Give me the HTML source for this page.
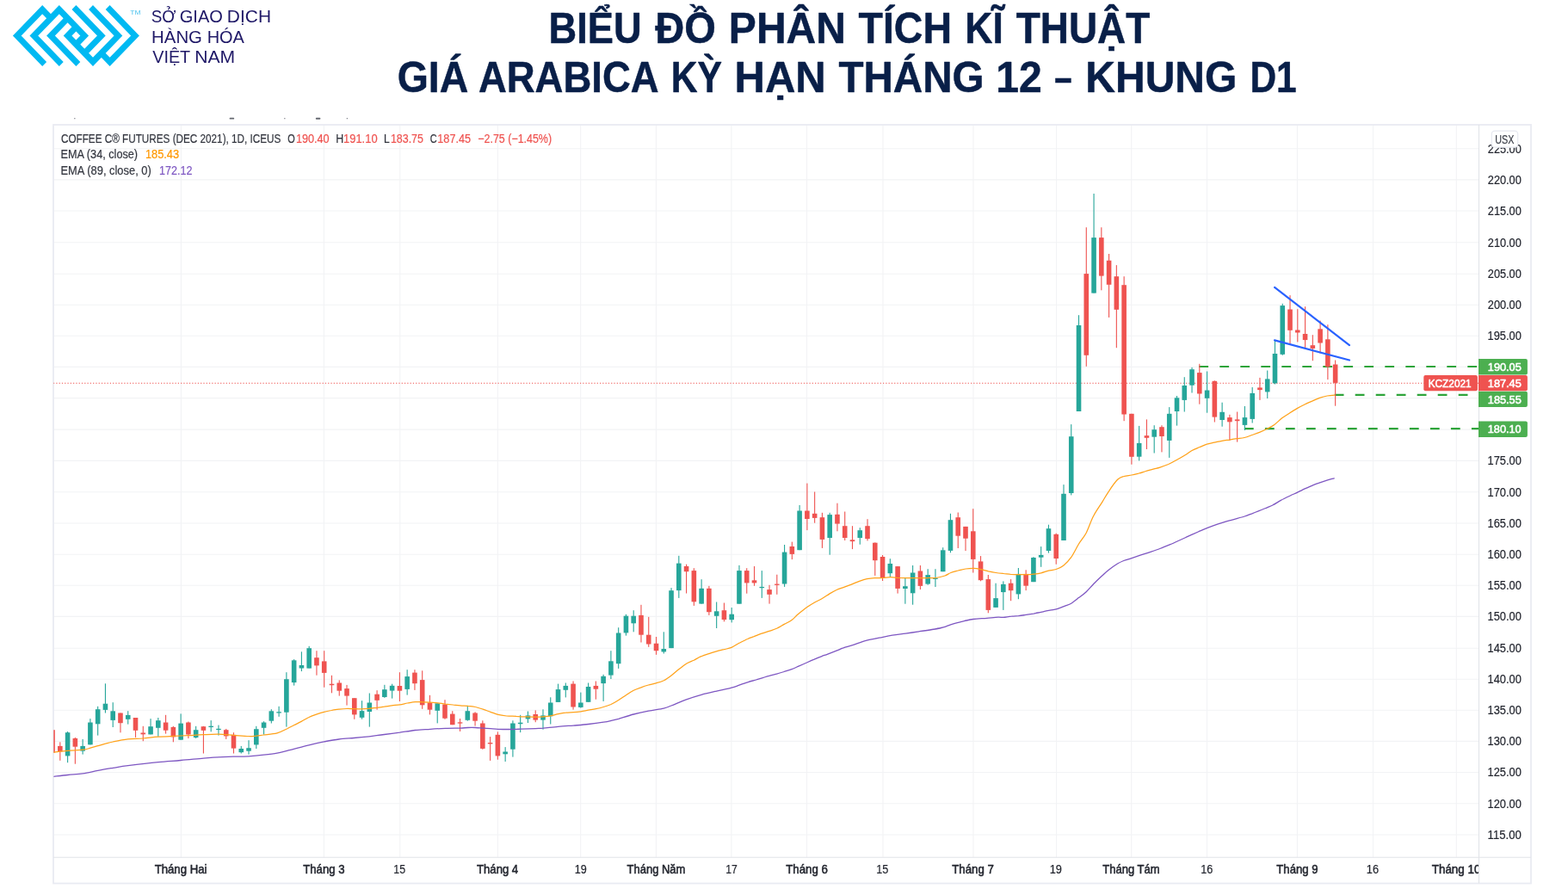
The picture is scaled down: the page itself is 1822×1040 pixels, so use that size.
<!DOCTYPE html>
<html lang="vi"><head><meta charset="utf-8"><title>Biểu đồ phân tích kĩ thuật</title>
<style>
html,body{margin:0;padding:0;background:#fff;}
body{width:1822px;height:1040px;overflow:hidden;position:relative;font-family:"Liberation Sans","DejaVu Sans",sans-serif;}
#logo{position:absolute;left:0;top:0;}
svg{position:absolute;left:0;top:0;}
svg text{font-family:"Liberation Sans","DejaVu Sans",sans-serif;white-space:pre;}
</style></head><body>

<svg id="logo" width="340" height="90" viewBox="0 0 340 90">
<g transform="translate(14.9,6.05) scale(4.9000,5.0643)" fill="none" stroke="#00b9f2" stroke-width="1.4142" stroke-linejoin="miter" stroke-linecap="butt" stroke-miterlimit="10">
<polyline points="7.5,13.5 1,7 7,1 9,3"/>
<polyline points="11.5,13.5 5,7 11,1 17,7 15,9"/>
<polyline points="15.5,13.5 9,7 13,3"/>
<polyline points="15,5 13,7 19,13 25,7 18.5,0.5"/>
<polyline points="14.5,0.5 21,7 17,11"/>
<polyline points="22.5,0.5 29,7 23,13 21,11"/>
</g>
<text transform="translate(151.27,17.00) scale(1.0655,1)" font-size="8.0" font-weight="normal" fill="#4fc4ef" font-family="Liberation Sans, sans-serif">TM</text>
</svg>
<svg id="hdr" width="1822" height="130" viewBox="0 0 1822 130" style="position:absolute;left:0;top:0">
<g id="brand">
<text transform="translate(175.71,25.60) scale(0.8980,1)" font-size="21.0" font-weight="normal" fill="#1f1867">SỞ</text>
<text transform="translate(208.76,25.60) scale(0.9563,1)" font-size="21.0" font-weight="normal" fill="#1f1867">GIAO</text>
<text transform="translate(263.87,25.60) scale(0.9963,1)" font-size="21.0" font-weight="normal" fill="#1f1867">DỊCH</text>
<text transform="translate(176.11,49.50) scale(0.9693,1)" font-size="21.0" font-weight="normal" fill="#1f1867">HÀNG</text>
<text transform="translate(240.64,49.50) scale(0.9507,1)" font-size="21.0" font-weight="normal" fill="#1f1867">HÓA</text>
<text transform="translate(177.20,72.80) scale(0.9435,1)" font-size="21.0" font-weight="normal" fill="#1f1867">VIỆT</text>
<text transform="translate(226.25,72.80) scale(1.0067,1)" font-size="21.0" font-weight="normal" fill="#1f1867">NAM</text>
</g>
<g id="title">
<text transform="translate(637.57,49.65) scale(0.9192,1)" font-size="49.2" font-weight="bold" fill="#091f48" stroke="#091f48" stroke-width="0.5" stroke-linejoin="round">BIỂU</text>
<text transform="translate(761.25,49.65) scale(0.9568,1)" font-size="49.2" font-weight="bold" fill="#091f48" stroke="#091f48" stroke-width="0.5" stroke-linejoin="round">ĐỒ</text>
<text transform="translate(846.85,49.65) scale(0.9760,1)" font-size="49.2" font-weight="bold" fill="#091f48" stroke="#091f48" stroke-width="0.5" stroke-linejoin="round">PHÂN</text>
<text transform="translate(997.55,49.65) scale(0.9449,1)" font-size="49.2" font-weight="bold" fill="#091f48" stroke="#091f48" stroke-width="0.5" stroke-linejoin="round">TÍCH</text>
<text transform="translate(1121.37,49.65) scale(0.9034,1)" font-size="49.2" font-weight="bold" fill="#091f48" stroke="#091f48" stroke-width="0.5" stroke-linejoin="round">KĨ</text>
<text transform="translate(1180.75,49.65) scale(0.9332,1)" font-size="49.2" font-weight="bold" fill="#091f48" stroke="#091f48" stroke-width="0.5" stroke-linejoin="round">THUẬT</text>
<text transform="translate(461.70,106.50) scale(0.9448,1)" font-size="49.2" font-weight="bold" fill="#091f48" stroke="#091f48" stroke-width="0.5" stroke-linejoin="round">GIÁ</text>
<text transform="translate(555.94,106.50) scale(0.9243,1)" font-size="49.2" font-weight="bold" fill="#091f48" stroke="#091f48" stroke-width="0.5" stroke-linejoin="round">ARABICA</text>
<text transform="translate(779.69,106.50) scale(0.8665,1)" font-size="49.2" font-weight="bold" fill="#091f48" stroke="#091f48" stroke-width="0.5" stroke-linejoin="round">KỲ</text>
<text transform="translate(853.49,106.50) scale(0.9963,1)" font-size="49.2" font-weight="bold" fill="#091f48" stroke="#091f48" stroke-width="0.5" stroke-linejoin="round">HẠN</text>
<text transform="translate(974.45,106.50) scale(0.9668,1)" font-size="49.2" font-weight="bold" fill="#091f48" stroke="#091f48" stroke-width="0.5" stroke-linejoin="round">THÁNG</text>
<text transform="translate(1157.24,106.50) scale(0.9777,1)" font-size="49.2" font-weight="bold" fill="#091f48" stroke="#091f48" stroke-width="0.5" stroke-linejoin="round">12</text>
<text transform="translate(1225.18,106.50) scale(0.7450,1)" font-size="49.2" font-weight="bold" fill="#091f48" stroke="#091f48" stroke-width="0.5" stroke-linejoin="round">–</text>
<text transform="translate(1261.35,106.50) scale(0.9759,1)" font-size="49.2" font-weight="bold" fill="#091f48" stroke="#091f48" stroke-width="0.5" stroke-linejoin="round">KHUNG</text>
<text transform="translate(1452.39,106.50) scale(0.8636,1)" font-size="49.2" font-weight="bold" fill="#091f48" stroke="#091f48" stroke-width="0.5" stroke-linejoin="round">D1</text>
</g>
</svg>
<svg id="chart" width="1822" height="1040" viewBox="0 0 1822 1040">
<rect x="86.2" y="137.05" width="1.3" height="1.3" rx="0.65" fill="#4a4d57" opacity="0.85"/>
<rect x="266.6" y="136.80" width="5.6" height="1.8" rx="0.90" fill="#4a4d57" opacity="0.85"/>
<rect x="330.2" y="137.05" width="1.3" height="1.3" rx="0.65" fill="#4a4d57" opacity="0.85"/>
<rect x="366.8" y="136.75" width="5.6" height="1.9" rx="0.95" fill="#4a4d57" opacity="0.85"/>
<rect x="402.7" y="137.05" width="1.3" height="1.3" rx="0.65" fill="#4a4d57" opacity="0.85"/>
<line x1="210.4" y1="145" x2="210.4" y2="996.3" stroke="#f2f3f5" stroke-width="1.1"/>
<line x1="376.4" y1="145" x2="376.4" y2="996.3" stroke="#f2f3f5" stroke-width="1.1"/>
<line x1="464.8" y1="145" x2="464.8" y2="996.3" stroke="#f2f3f5" stroke-width="1.1"/>
<line x1="578.3" y1="145" x2="578.3" y2="996.3" stroke="#f2f3f5" stroke-width="1.1"/>
<line x1="674.7" y1="145" x2="674.7" y2="996.3" stroke="#f2f3f5" stroke-width="1.1"/>
<line x1="762.4" y1="145" x2="762.4" y2="996.3" stroke="#f2f3f5" stroke-width="1.1"/>
<line x1="849.9" y1="145" x2="849.9" y2="996.3" stroke="#f2f3f5" stroke-width="1.1"/>
<line x1="937.5" y1="145" x2="937.5" y2="996.3" stroke="#f2f3f5" stroke-width="1.1"/>
<line x1="1026.0" y1="145" x2="1026.0" y2="996.3" stroke="#f2f3f5" stroke-width="1.1"/>
<line x1="1131.0" y1="145" x2="1131.0" y2="996.3" stroke="#f2f3f5" stroke-width="1.1"/>
<line x1="1227.5" y1="145" x2="1227.5" y2="996.3" stroke="#f2f3f5" stroke-width="1.1"/>
<line x1="1314.7" y1="145" x2="1314.7" y2="996.3" stroke="#f2f3f5" stroke-width="1.1"/>
<line x1="1402.5" y1="145" x2="1402.5" y2="996.3" stroke="#f2f3f5" stroke-width="1.1"/>
<line x1="1507.4" y1="145" x2="1507.4" y2="996.3" stroke="#f2f3f5" stroke-width="1.1"/>
<line x1="1595.5" y1="145" x2="1595.5" y2="996.3" stroke="#f2f3f5" stroke-width="1.1"/>
<line x1="1692.3" y1="145" x2="1692.3" y2="996.3" stroke="#f2f3f5" stroke-width="1.1"/>
<line x1="62" y1="970.00" x2="1718.5" y2="970.00" stroke="#f2f3f5" stroke-width="1.1"/>
<line x1="62" y1="933.80" x2="1718.5" y2="933.80" stroke="#f2f3f5" stroke-width="1.1"/>
<line x1="62" y1="897.50" x2="1718.5" y2="897.50" stroke="#f2f3f5" stroke-width="1.1"/>
<line x1="62" y1="861.40" x2="1718.5" y2="861.40" stroke="#f2f3f5" stroke-width="1.1"/>
<line x1="62" y1="825.30" x2="1718.5" y2="825.30" stroke="#f2f3f5" stroke-width="1.1"/>
<line x1="62" y1="789.30" x2="1718.5" y2="789.30" stroke="#f2f3f5" stroke-width="1.1"/>
<line x1="62" y1="753.20" x2="1718.5" y2="753.20" stroke="#f2f3f5" stroke-width="1.1"/>
<line x1="62" y1="716.40" x2="1718.5" y2="716.40" stroke="#f2f3f5" stroke-width="1.1"/>
<line x1="62" y1="680.30" x2="1718.5" y2="680.30" stroke="#f2f3f5" stroke-width="1.1"/>
<line x1="62" y1="644.20" x2="1718.5" y2="644.20" stroke="#f2f3f5" stroke-width="1.1"/>
<line x1="62" y1="608.00" x2="1718.5" y2="608.00" stroke="#f2f3f5" stroke-width="1.1"/>
<line x1="62" y1="571.70" x2="1718.5" y2="571.70" stroke="#f2f3f5" stroke-width="1.1"/>
<line x1="62" y1="535.40" x2="1718.5" y2="535.40" stroke="#f2f3f5" stroke-width="1.1"/>
<line x1="62" y1="499.10" x2="1718.5" y2="499.10" stroke="#f2f3f5" stroke-width="1.1"/>
<line x1="62" y1="462.60" x2="1718.5" y2="462.60" stroke="#f2f3f5" stroke-width="1.1"/>
<line x1="62" y1="426.40" x2="1718.5" y2="426.40" stroke="#f2f3f5" stroke-width="1.1"/>
<line x1="62" y1="390.30" x2="1718.5" y2="390.30" stroke="#f2f3f5" stroke-width="1.1"/>
<line x1="62" y1="354.30" x2="1718.5" y2="354.30" stroke="#f2f3f5" stroke-width="1.1"/>
<line x1="62" y1="318.20" x2="1718.5" y2="318.20" stroke="#f2f3f5" stroke-width="1.1"/>
<line x1="62" y1="281.80" x2="1718.5" y2="281.80" stroke="#f2f3f5" stroke-width="1.1"/>
<line x1="62" y1="245.00" x2="1718.5" y2="245.00" stroke="#f2f3f5" stroke-width="1.1"/>
<line x1="62" y1="208.90" x2="1718.5" y2="208.90" stroke="#f2f3f5" stroke-width="1.1"/>
<line x1="62" y1="172.70" x2="1718.5" y2="172.70" stroke="#f2f3f5" stroke-width="1.1"/>
<rect x="62" y="145" width="1717" height="881.5" fill="none" stroke="#e9ebf2" stroke-width="1.8"/>
<line x1="1718.5" y1="145" x2="1718.5" y2="1026.5" stroke="#e1e3e8" stroke-width="1.1"/>
<line x1="62" y1="996.3" x2="1779" y2="996.3" stroke="#e1e3e8" stroke-width="1.1"/>
<clipPath id="pc"><rect x="62.3" y="145" width="1656.5" height="851.3"/></clipPath>
<g clip-path="url(#pc)">
<line x1="62" y1="445.25" x2="1718.5" y2="445.25" stroke="#ef5350" stroke-width="1.1" stroke-dasharray="1.25 2.04"/>
<line x1="1393.3" y1="426.00" x2="1718.5" y2="426.00" stroke="#2ea43a" stroke-width="2.1" stroke-dasharray="10.8 13.2"/>
<line x1="1550.7" y1="458.85" x2="1718.5" y2="458.85" stroke="#2ea43a" stroke-width="2.1" stroke-dasharray="10.8 13.2"/>
<line x1="1445.9" y1="498.15" x2="1718.5" y2="498.15" stroke="#2ea43a" stroke-width="2.1" stroke-dasharray="10.8 13.2"/>
<rect x="60.51" y="848.2" width="1.1" height="27.2" fill="#ef5350"/><rect x="58.26" y="848.2" width="5.6" height="26.5" fill="#ef5350"/>
<rect x="69.28" y="862.3" width="1.1" height="21.5" fill="#ef5350"/><rect x="67.03" y="866.9" width="5.6" height="6.5" fill="#ef5350"/>
<rect x="78.05" y="850.0" width="1.1" height="36.2" fill="#26a69a"/><rect x="75.80" y="851.2" width="5.6" height="27.2" fill="#26a69a"/>
<rect x="86.81" y="856.9" width="1.1" height="30.8" fill="#ef5350"/><rect x="84.56" y="858.0" width="5.6" height="9.7" fill="#ef5350"/>
<rect x="95.58" y="858.9" width="1.1" height="17.7" fill="#26a69a"/><rect x="93.33" y="866.9" width="5.6" height="5.8" fill="#26a69a"/>
<rect x="104.35" y="835.1" width="1.1" height="30.3" fill="#26a69a"/><rect x="102.10" y="839.5" width="5.6" height="25.8" fill="#26a69a"/>
<rect x="113.12" y="820.8" width="1.1" height="33.8" fill="#26a69a"/><rect x="110.87" y="824.2" width="5.6" height="17.1" fill="#26a69a"/>
<rect x="121.89" y="794.3" width="1.1" height="34.2" fill="#26a69a"/><rect x="119.64" y="817.7" width="5.6" height="7.2" fill="#26a69a"/>
<rect x="130.65" y="816.2" width="1.1" height="28.8" fill="#26a69a"/><rect x="128.40" y="826.3" width="5.6" height="10.6" fill="#26a69a"/>
<rect x="139.42" y="828.5" width="1.1" height="22.8" fill="#ef5350"/><rect x="137.17" y="828.5" width="5.6" height="11.7" fill="#ef5350"/>
<rect x="148.19" y="826.2" width="1.1" height="15.4" fill="#26a69a"/><rect x="145.94" y="830.9" width="5.6" height="4.9" fill="#26a69a"/>
<rect x="156.96" y="834.0" width="1.1" height="22.9" fill="#ef5350"/><rect x="154.71" y="834.0" width="5.6" height="14.8" fill="#ef5350"/>
<rect x="165.73" y="843.8" width="1.1" height="17.4" fill="#ef5350"/><rect x="163.48" y="851.5" width="5.6" height="1.8" fill="#ef5350"/>
<rect x="174.50" y="835.1" width="1.1" height="18.3" fill="#26a69a"/><rect x="172.25" y="844.2" width="5.6" height="9.2" fill="#26a69a"/>
<rect x="183.26" y="834.0" width="1.1" height="21.8" fill="#26a69a"/><rect x="181.01" y="837.2" width="5.6" height="8.6" fill="#26a69a"/>
<rect x="192.03" y="830.8" width="1.1" height="21.8" fill="#ef5350"/><rect x="189.78" y="839.5" width="5.6" height="9.2" fill="#ef5350"/>
<rect x="200.80" y="843.8" width="1.1" height="18.5" fill="#ef5350"/><rect x="198.55" y="844.9" width="5.6" height="11.5" fill="#ef5350"/>
<rect x="209.57" y="829.4" width="1.1" height="30.3" fill="#26a69a"/><rect x="207.32" y="840.6" width="5.6" height="19.1" fill="#26a69a"/>
<rect x="218.34" y="838.5" width="1.1" height="19.5" fill="#ef5350"/><rect x="216.09" y="839.5" width="5.6" height="14.0" fill="#ef5350"/>
<rect x="227.10" y="843.8" width="1.1" height="14.2" fill="#26a69a"/><rect x="224.85" y="848.2" width="5.6" height="8.8" fill="#26a69a"/>
<rect x="235.87" y="843.8" width="1.1" height="31.7" fill="#ef5350"/><rect x="233.62" y="844.2" width="5.6" height="4.6" fill="#ef5350"/>
<rect x="244.64" y="837.1" width="1.1" height="13.2" fill="#26a69a"/><rect x="242.39" y="843.7" width="5.6" height="1.3" fill="#26a69a"/>
<rect x="253.41" y="842.6" width="1.1" height="12.0" fill="#26a69a"/><rect x="251.16" y="846.8" width="5.6" height="1.3" fill="#26a69a"/>
<rect x="262.18" y="846.9" width="1.1" height="12.0" fill="#ef5350"/><rect x="259.93" y="848.2" width="5.6" height="7.2" fill="#ef5350"/>
<rect x="270.94" y="851.2" width="1.1" height="24.3" fill="#ef5350"/><rect x="268.69" y="853.8" width="5.6" height="15.8" fill="#ef5350"/>
<rect x="279.71" y="866.9" width="1.1" height="8.6" fill="#26a69a"/><rect x="277.46" y="870.0" width="5.6" height="4.2" fill="#26a69a"/>
<rect x="288.48" y="860.2" width="1.1" height="16.5" fill="#26a69a"/><rect x="286.23" y="869.2" width="5.6" height="3.5" fill="#26a69a"/>
<rect x="297.25" y="843.8" width="1.1" height="26.2" fill="#26a69a"/><rect x="295.00" y="847.2" width="5.6" height="18.2" fill="#26a69a"/>
<rect x="306.02" y="838.2" width="1.1" height="15.4" fill="#26a69a"/><rect x="303.77" y="839.5" width="5.6" height="6.3" fill="#26a69a"/>
<rect x="314.78" y="824.2" width="1.1" height="16.3" fill="#26a69a"/><rect x="312.53" y="826.3" width="5.6" height="11.4" fill="#26a69a"/>
<rect x="323.55" y="820.8" width="1.1" height="12.0" fill="#26a69a"/><rect x="321.30" y="827.2" width="5.6" height="1.3" fill="#26a69a"/>
<rect x="332.32" y="781.2" width="1.1" height="63.4" fill="#26a69a"/><rect x="330.07" y="789.2" width="5.6" height="38.5" fill="#26a69a"/>
<rect x="341.09" y="766.1" width="1.1" height="30.5" fill="#26a69a"/><rect x="338.84" y="767.3" width="5.6" height="25.8" fill="#26a69a"/>
<rect x="349.86" y="757.3" width="1.1" height="22.8" fill="#26a69a"/><rect x="347.61" y="773.0" width="5.6" height="3.5" fill="#26a69a"/>
<rect x="358.63" y="750.8" width="1.1" height="25.7" fill="#26a69a"/><rect x="356.38" y="753.2" width="5.6" height="23.4" fill="#26a69a"/>
<rect x="367.39" y="756.2" width="1.1" height="28.5" fill="#ef5350"/><rect x="365.14" y="764.2" width="5.6" height="9.2" fill="#ef5350"/>
<rect x="376.16" y="756.2" width="1.1" height="42.5" fill="#ef5350"/><rect x="373.91" y="768.4" width="5.6" height="13.5" fill="#ef5350"/>
<rect x="384.93" y="784.8" width="1.1" height="20.5" fill="#ef5350"/><rect x="382.68" y="794.7" width="5.6" height="1.5" fill="#ef5350"/>
<rect x="393.70" y="790.4" width="1.1" height="18.2" fill="#ef5350"/><rect x="391.45" y="793.5" width="5.6" height="9.2" fill="#ef5350"/>
<rect x="402.47" y="795.9" width="1.1" height="23.7" fill="#ef5350"/><rect x="400.22" y="800.1" width="5.6" height="8.5" fill="#ef5350"/>
<rect x="411.23" y="811.2" width="1.1" height="24.6" fill="#ef5350"/><rect x="408.98" y="811.2" width="5.6" height="19.2" fill="#ef5350"/>
<rect x="420.00" y="814.2" width="1.1" height="21.5" fill="#26a69a"/><rect x="417.75" y="826.1" width="5.6" height="7.7" fill="#26a69a"/>
<rect x="428.77" y="805.5" width="1.1" height="39.1" fill="#26a69a"/><rect x="426.52" y="816.5" width="5.6" height="10.5" fill="#26a69a"/>
<rect x="437.54" y="802.2" width="1.1" height="22.5" fill="#ef5350"/><rect x="435.29" y="806.7" width="5.6" height="7.1" fill="#ef5350"/>
<rect x="446.31" y="795.8" width="1.1" height="15.1" fill="#26a69a"/><rect x="444.06" y="801.2" width="5.6" height="8.8" fill="#26a69a"/>
<rect x="455.07" y="794.7" width="1.1" height="16.9" fill="#26a69a"/><rect x="452.82" y="796.8" width="5.6" height="5.8" fill="#26a69a"/>
<rect x="463.84" y="781.2" width="1.1" height="33.8" fill="#ef5350"/><rect x="461.59" y="797.0" width="5.6" height="5.7" fill="#ef5350"/>
<rect x="472.61" y="778.2" width="1.1" height="29.4" fill="#26a69a"/><rect x="470.36" y="786.1" width="5.6" height="14.8" fill="#26a69a"/>
<rect x="481.38" y="778.2" width="1.1" height="23.7" fill="#ef5350"/><rect x="479.13" y="781.6" width="5.6" height="12.6" fill="#ef5350"/>
<rect x="490.15" y="779.3" width="1.1" height="44.5" fill="#ef5350"/><rect x="487.90" y="790.1" width="5.6" height="29.2" fill="#ef5350"/>
<rect x="498.92" y="807.8" width="1.1" height="22.6" fill="#ef5350"/><rect x="496.67" y="816.5" width="5.6" height="8.2" fill="#ef5350"/>
<rect x="507.68" y="817.3" width="1.1" height="23.1" fill="#26a69a"/><rect x="505.43" y="817.3" width="5.6" height="8.5" fill="#26a69a"/>
<rect x="516.45" y="813.2" width="1.1" height="22.6" fill="#ef5350"/><rect x="514.20" y="818.5" width="5.6" height="16.2" fill="#ef5350"/>
<rect x="525.22" y="826.2" width="1.1" height="16.0" fill="#ef5350"/><rect x="522.97" y="829.6" width="5.6" height="12.6" fill="#ef5350"/>
<rect x="533.99" y="835.0" width="1.1" height="14.9" fill="#ef5350"/><rect x="531.74" y="839.3" width="5.6" height="1.3" fill="#ef5350"/>
<rect x="542.76" y="819.9" width="1.1" height="17.8" fill="#26a69a"/><rect x="540.51" y="826.2" width="5.6" height="10.6" fill="#26a69a"/>
<rect x="551.52" y="827.3" width="1.1" height="16.2" fill="#ef5350"/><rect x="549.27" y="828.5" width="5.6" height="9.2" fill="#ef5350"/>
<rect x="560.29" y="837.3" width="1.1" height="33.5" fill="#ef5350"/><rect x="558.04" y="840.5" width="5.6" height="29.4" fill="#ef5350"/>
<rect x="569.06" y="856.1" width="1.1" height="27.8" fill="#ef5350"/><rect x="566.81" y="863.0" width="5.6" height="1.4" fill="#ef5350"/>
<rect x="577.83" y="850.4" width="1.1" height="32.3" fill="#ef5350"/><rect x="575.58" y="853.8" width="5.6" height="24.6" fill="#ef5350"/>
<rect x="586.60" y="868.1" width="1.1" height="16.9" fill="#26a69a"/><rect x="584.35" y="873.5" width="5.6" height="2.8" fill="#26a69a"/>
<rect x="595.36" y="837.3" width="1.1" height="42.3" fill="#26a69a"/><rect x="593.11" y="840.5" width="5.6" height="30.2" fill="#26a69a"/>
<rect x="604.13" y="830.8" width="1.1" height="20.3" fill="#26a69a"/><rect x="601.88" y="839.7" width="5.6" height="1.5" fill="#26a69a"/>
<rect x="612.90" y="826.5" width="1.1" height="13.5" fill="#26a69a"/><rect x="610.65" y="831.4" width="5.6" height="4.0" fill="#26a69a"/>
<rect x="621.67" y="825.4" width="1.1" height="13.8" fill="#ef5350"/><rect x="619.42" y="830.0" width="5.6" height="6.6" fill="#ef5350"/>
<rect x="630.44" y="824.3" width="1.1" height="23.4" fill="#26a69a"/><rect x="628.19" y="831.4" width="5.6" height="5.2" fill="#26a69a"/>
<rect x="639.20" y="810.3" width="1.1" height="31.2" fill="#26a69a"/><rect x="636.95" y="816.5" width="5.6" height="15.8" fill="#26a69a"/>
<rect x="647.97" y="794.6" width="1.1" height="21.2" fill="#26a69a"/><rect x="645.72" y="801.1" width="5.6" height="14.8" fill="#26a69a"/>
<rect x="656.74" y="793.5" width="1.1" height="16.9" fill="#26a69a"/><rect x="654.49" y="796.9" width="5.6" height="4.9" fill="#26a69a"/>
<rect x="665.51" y="791.5" width="1.1" height="33.1" fill="#ef5350"/><rect x="663.26" y="794.6" width="5.6" height="26.9" fill="#ef5350"/>
<rect x="674.28" y="804.6" width="1.1" height="18.0" fill="#26a69a"/><rect x="672.03" y="816.5" width="5.6" height="5.4" fill="#26a69a"/>
<rect x="683.05" y="793.5" width="1.1" height="22.3" fill="#26a69a"/><rect x="680.80" y="798.0" width="5.6" height="17.8" fill="#26a69a"/>
<rect x="691.81" y="791.5" width="1.1" height="21.2" fill="#ef5350"/><rect x="689.56" y="796.9" width="5.6" height="3.8" fill="#ef5350"/>
<rect x="700.58" y="783.8" width="1.1" height="31.1" fill="#26a69a"/><rect x="698.33" y="785.8" width="5.6" height="8.3" fill="#26a69a"/>
<rect x="709.35" y="756.2" width="1.1" height="32.8" fill="#26a69a"/><rect x="707.10" y="768.3" width="5.6" height="16.3" fill="#26a69a"/>
<rect x="718.12" y="729.2" width="1.1" height="47.7" fill="#26a69a"/><rect x="715.87" y="735.5" width="5.6" height="35.7" fill="#26a69a"/>
<rect x="726.89" y="713.8" width="1.1" height="24.8" fill="#26a69a"/><rect x="724.64" y="715.7" width="5.6" height="19.7" fill="#26a69a"/>
<rect x="735.65" y="709.2" width="1.1" height="25.1" fill="#26a69a"/><rect x="733.40" y="715.7" width="5.6" height="8.6" fill="#26a69a"/>
<rect x="744.42" y="702.8" width="1.1" height="43.7" fill="#ef5350"/><rect x="742.17" y="714.9" width="5.6" height="22.8" fill="#ef5350"/>
<rect x="753.19" y="716.9" width="1.1" height="34.9" fill="#ef5350"/><rect x="750.94" y="737.7" width="5.6" height="10.8" fill="#ef5350"/>
<rect x="761.96" y="740.0" width="1.1" height="20.8" fill="#ef5350"/><rect x="759.71" y="747.7" width="5.6" height="8.5" fill="#ef5350"/>
<rect x="770.73" y="734.3" width="1.1" height="25.2" fill="#26a69a"/><rect x="768.48" y="754.0" width="5.6" height="3.4" fill="#26a69a"/>
<rect x="779.49" y="683.1" width="1.1" height="70.0" fill="#26a69a"/><rect x="777.24" y="686.2" width="5.6" height="66.9" fill="#26a69a"/>
<rect x="788.26" y="645.8" width="1.1" height="49.1" fill="#26a69a"/><rect x="786.01" y="654.6" width="5.6" height="31.5" fill="#26a69a"/>
<rect x="797.03" y="655.7" width="1.1" height="33.8" fill="#ef5350"/><rect x="794.78" y="658.0" width="5.6" height="6.2" fill="#ef5350"/>
<rect x="805.80" y="660.2" width="1.1" height="43.7" fill="#ef5350"/><rect x="803.55" y="663.1" width="5.6" height="36.2" fill="#ef5350"/>
<rect x="814.57" y="673.2" width="1.1" height="28.5" fill="#26a69a"/><rect x="812.32" y="683.8" width="5.6" height="17.8" fill="#26a69a"/>
<rect x="823.33" y="680.9" width="1.1" height="34.0" fill="#ef5350"/><rect x="821.08" y="683.8" width="5.6" height="27.4" fill="#ef5350"/>
<rect x="832.10" y="699.5" width="1.1" height="30.5" fill="#26a69a"/><rect x="829.85" y="710.3" width="5.6" height="5.5" fill="#26a69a"/>
<rect x="840.87" y="700.5" width="1.1" height="21.8" fill="#ef5350"/><rect x="838.62" y="709.2" width="5.6" height="10.8" fill="#ef5350"/>
<rect x="849.64" y="706.0" width="1.1" height="17.4" fill="#26a69a"/><rect x="847.39" y="713.7" width="5.6" height="6.5" fill="#26a69a"/>
<rect x="858.41" y="656.9" width="1.1" height="44.8" fill="#26a69a"/><rect x="856.16" y="663.1" width="5.6" height="38.6" fill="#26a69a"/>
<rect x="867.18" y="660.2" width="1.1" height="29.5" fill="#ef5350"/><rect x="864.93" y="663.1" width="5.6" height="14.3" fill="#ef5350"/>
<rect x="875.94" y="658.0" width="1.1" height="22.8" fill="#ef5350"/><rect x="873.69" y="674.3" width="5.6" height="3.1" fill="#ef5350"/>
<rect x="884.71" y="663.1" width="1.1" height="31.8" fill="#26a69a"/><rect x="882.46" y="681.9" width="5.6" height="1.3" fill="#26a69a"/>
<rect x="893.48" y="679.8" width="1.1" height="21.8" fill="#ef5350"/><rect x="891.23" y="685.1" width="5.6" height="5.7" fill="#ef5350"/>
<rect x="902.25" y="667.7" width="1.1" height="23.1" fill="#ef5350"/><rect x="900.00" y="678.6" width="5.6" height="1.3" fill="#ef5350"/>
<rect x="911.02" y="633.0" width="1.1" height="48.9" fill="#26a69a"/><rect x="908.77" y="641.6" width="5.6" height="36.9" fill="#26a69a"/>
<rect x="919.78" y="629.6" width="1.1" height="20.5" fill="#ef5350"/><rect x="917.53" y="635.0" width="5.6" height="8.9" fill="#ef5350"/>
<rect x="928.55" y="587.0" width="1.1" height="52.2" fill="#26a69a"/><rect x="926.30" y="593.5" width="5.6" height="45.7" fill="#26a69a"/>
<rect x="937.32" y="561.6" width="1.1" height="54.5" fill="#ef5350"/><rect x="935.07" y="593.5" width="5.6" height="9.5" fill="#ef5350"/>
<rect x="946.09" y="571.5" width="1.1" height="36.2" fill="#ef5350"/><rect x="943.84" y="596.8" width="5.6" height="5.1" fill="#ef5350"/>
<rect x="954.86" y="595.8" width="1.1" height="41.1" fill="#ef5350"/><rect x="952.61" y="601.2" width="5.6" height="25.7" fill="#ef5350"/>
<rect x="963.62" y="595.8" width="1.1" height="48.9" fill="#26a69a"/><rect x="961.37" y="598.1" width="5.6" height="26.9" fill="#26a69a"/>
<rect x="972.39" y="584.7" width="1.1" height="32.6" fill="#ef5350"/><rect x="970.14" y="597.8" width="5.6" height="10.8" fill="#ef5350"/>
<rect x="981.16" y="594.5" width="1.1" height="33.5" fill="#ef5350"/><rect x="978.91" y="611.2" width="5.6" height="13.8" fill="#ef5350"/>
<rect x="989.93" y="611.2" width="1.1" height="26.9" fill="#ef5350"/><rect x="987.68" y="627.3" width="5.6" height="1.8" fill="#ef5350"/>
<rect x="998.70" y="613.2" width="1.1" height="19.5" fill="#26a69a"/><rect x="996.45" y="616.2" width="5.6" height="8.8" fill="#26a69a"/>
<rect x="1007.46" y="603.2" width="1.1" height="25.2" fill="#ef5350"/><rect x="1005.21" y="611.2" width="5.6" height="14.9" fill="#ef5350"/>
<rect x="1016.23" y="630.4" width="1.1" height="38.5" fill="#ef5350"/><rect x="1013.98" y="630.7" width="5.6" height="20.5" fill="#ef5350"/>
<rect x="1025.00" y="645.0" width="1.1" height="30.0" fill="#ef5350"/><rect x="1022.75" y="647.0" width="5.6" height="24.6" fill="#ef5350"/>
<rect x="1033.77" y="649.2" width="1.1" height="21.2" fill="#26a69a"/><rect x="1031.52" y="655.0" width="5.6" height="11.2" fill="#26a69a"/>
<rect x="1042.54" y="658.1" width="1.1" height="31.5" fill="#ef5350"/><rect x="1040.29" y="658.1" width="5.6" height="25.8" fill="#ef5350"/>
<rect x="1051.31" y="671.2" width="1.1" height="30.5" fill="#26a69a"/><rect x="1049.06" y="681.2" width="5.6" height="2.8" fill="#26a69a"/>
<rect x="1060.07" y="657.0" width="1.1" height="45.7" fill="#26a69a"/><rect x="1057.82" y="665.5" width="5.6" height="23.8" fill="#26a69a"/>
<rect x="1068.84" y="657.0" width="1.1" height="28.0" fill="#ef5350"/><rect x="1066.59" y="663.5" width="5.6" height="17.4" fill="#ef5350"/>
<rect x="1077.61" y="661.2" width="1.1" height="18.5" fill="#26a69a"/><rect x="1075.36" y="668.1" width="5.6" height="10.5" fill="#26a69a"/>
<rect x="1086.38" y="661.2" width="1.1" height="20.8" fill="#26a69a"/><rect x="1084.13" y="671.6" width="5.6" height="1.3" fill="#26a69a"/>
<rect x="1095.15" y="636.2" width="1.1" height="28.0" fill="#26a69a"/><rect x="1092.90" y="639.3" width="5.6" height="24.9" fill="#26a69a"/>
<rect x="1103.91" y="596.8" width="1.1" height="45.5" fill="#26a69a"/><rect x="1101.66" y="604.2" width="5.6" height="35.7" fill="#26a69a"/>
<rect x="1112.68" y="595.5" width="1.1" height="41.5" fill="#ef5350"/><rect x="1110.43" y="601.2" width="5.6" height="21.5" fill="#ef5350"/>
<rect x="1121.45" y="611.9" width="1.1" height="28.2" fill="#ef5350"/><rect x="1119.20" y="611.9" width="5.6" height="13.8" fill="#ef5350"/>
<rect x="1130.22" y="591.2" width="1.1" height="74.3" fill="#ef5350"/><rect x="1127.97" y="617.3" width="5.6" height="32.6" fill="#ef5350"/>
<rect x="1138.99" y="646.1" width="1.1" height="29.2" fill="#ef5350"/><rect x="1136.74" y="652.4" width="5.6" height="21.8" fill="#ef5350"/>
<rect x="1147.75" y="668.0" width="1.1" height="44.3" fill="#ef5350"/><rect x="1145.50" y="673.1" width="5.6" height="35.8" fill="#ef5350"/>
<rect x="1156.52" y="677.7" width="1.1" height="28.2" fill="#26a69a"/><rect x="1154.27" y="695.1" width="5.6" height="10.8" fill="#26a69a"/>
<rect x="1165.29" y="675.4" width="1.1" height="33.5" fill="#26a69a"/><rect x="1163.04" y="678.9" width="5.6" height="9.2" fill="#26a69a"/>
<rect x="1174.06" y="673.1" width="1.1" height="25.1" fill="#ef5350"/><rect x="1171.81" y="677.7" width="5.6" height="8.5" fill="#ef5350"/>
<rect x="1182.83" y="660.0" width="1.1" height="36.2" fill="#26a69a"/><rect x="1180.58" y="666.9" width="5.6" height="23.5" fill="#26a69a"/>
<rect x="1191.59" y="662.3" width="1.1" height="23.8" fill="#ef5350"/><rect x="1189.34" y="666.9" width="5.6" height="13.8" fill="#ef5350"/>
<rect x="1200.36" y="647.2" width="1.1" height="28.9" fill="#26a69a"/><rect x="1198.11" y="648.0" width="5.6" height="28.2" fill="#26a69a"/>
<rect x="1209.13" y="635.1" width="1.1" height="23.7" fill="#26a69a"/><rect x="1206.88" y="644.9" width="5.6" height="2.8" fill="#26a69a"/>
<rect x="1217.90" y="609.7" width="1.1" height="32.9" fill="#26a69a"/><rect x="1215.65" y="614.2" width="5.6" height="25.8" fill="#26a69a"/>
<rect x="1226.67" y="619.7" width="1.1" height="36.0" fill="#ef5350"/><rect x="1224.42" y="620.8" width="5.6" height="28.2" fill="#ef5350"/>
<rect x="1235.44" y="563.1" width="1.1" height="64.9" fill="#26a69a"/><rect x="1233.19" y="573.8" width="5.6" height="54.2" fill="#26a69a"/>
<rect x="1244.20" y="493.1" width="1.1" height="82.3" fill="#26a69a"/><rect x="1241.95" y="507.2" width="5.6" height="65.8" fill="#26a69a"/>
<rect x="1252.97" y="366.2" width="1.1" height="111.8" fill="#26a69a"/><rect x="1250.72" y="378.0" width="5.6" height="100.0" fill="#26a69a"/>
<rect x="1261.74" y="264.2" width="1.1" height="161.6" fill="#ef5350"/><rect x="1259.49" y="318.1" width="5.6" height="94.7" fill="#ef5350"/>
<rect x="1270.51" y="225.0" width="1.1" height="115.6" fill="#26a69a"/><rect x="1268.26" y="276.1" width="5.6" height="64.5" fill="#26a69a"/>
<rect x="1279.28" y="264.2" width="1.1" height="73.1" fill="#ef5350"/><rect x="1277.03" y="276.1" width="5.6" height="44.5" fill="#ef5350"/>
<rect x="1288.04" y="295.0" width="1.1" height="73.9" fill="#ef5350"/><rect x="1285.79" y="302.7" width="5.6" height="28.1" fill="#ef5350"/>
<rect x="1296.81" y="308.1" width="1.1" height="96.1" fill="#ef5350"/><rect x="1294.56" y="321.2" width="5.6" height="38.6" fill="#ef5350"/>
<rect x="1305.58" y="321.2" width="1.1" height="168.0" fill="#ef5350"/><rect x="1303.33" y="331.2" width="5.6" height="150.3" fill="#ef5350"/>
<rect x="1314.35" y="480.8" width="1.1" height="58.9" fill="#ef5350"/><rect x="1312.10" y="480.8" width="5.6" height="50.0" fill="#ef5350"/>
<rect x="1323.12" y="494.9" width="1.1" height="40.5" fill="#26a69a"/><rect x="1320.87" y="514.9" width="5.6" height="15.8" fill="#26a69a"/>
<rect x="1331.88" y="487.4" width="1.1" height="34.6" fill="#ef5350"/><rect x="1329.63" y="506.2" width="5.6" height="2.6" fill="#ef5350"/>
<rect x="1340.65" y="494.2" width="1.1" height="32.3" fill="#26a69a"/><rect x="1338.40" y="499.2" width="5.6" height="8.5" fill="#26a69a"/>
<rect x="1349.42" y="494.2" width="1.1" height="31.2" fill="#ef5350"/><rect x="1347.17" y="496.2" width="5.6" height="10.8" fill="#ef5350"/>
<rect x="1358.19" y="473.1" width="1.1" height="58.8" fill="#26a69a"/><rect x="1355.94" y="480.8" width="5.6" height="31.1" fill="#26a69a"/>
<rect x="1366.96" y="460.0" width="1.1" height="34.6" fill="#26a69a"/><rect x="1364.71" y="462.3" width="5.6" height="15.7" fill="#26a69a"/>
<rect x="1375.73" y="438.2" width="1.1" height="40.3" fill="#26a69a"/><rect x="1373.48" y="448.0" width="5.6" height="16.9" fill="#26a69a"/>
<rect x="1384.49" y="426.9" width="1.1" height="29.6" fill="#26a69a"/><rect x="1382.24" y="429.2" width="5.6" height="18.5" fill="#26a69a"/>
<rect x="1393.26" y="422.8" width="1.1" height="46.9" fill="#ef5350"/><rect x="1391.01" y="433.1" width="5.6" height="24.4" fill="#ef5350"/>
<rect x="1402.03" y="431.5" width="1.1" height="48.2" fill="#26a69a"/><rect x="1399.78" y="453.5" width="5.6" height="9.3" fill="#26a69a"/>
<rect x="1410.80" y="442.3" width="1.1" height="48.2" fill="#ef5350"/><rect x="1408.55" y="442.8" width="5.6" height="41.8" fill="#ef5350"/>
<rect x="1419.57" y="467.7" width="1.1" height="28.0" fill="#26a69a"/><rect x="1417.32" y="478.8" width="5.6" height="9.2" fill="#26a69a"/>
<rect x="1428.33" y="481.8" width="1.1" height="30.2" fill="#ef5350"/><rect x="1426.08" y="485.1" width="5.6" height="5.2" fill="#ef5350"/>
<rect x="1437.10" y="478.5" width="1.1" height="35.1" fill="#ef5350"/><rect x="1434.85" y="487.4" width="5.6" height="1.8" fill="#ef5350"/>
<rect x="1445.87" y="472.0" width="1.1" height="28.0" fill="#26a69a"/><rect x="1443.62" y="485.1" width="5.6" height="8.8" fill="#26a69a"/>
<rect x="1454.64" y="450.0" width="1.1" height="41.5" fill="#26a69a"/><rect x="1452.39" y="456.9" width="5.6" height="30.0" fill="#26a69a"/>
<rect x="1463.41" y="438.9" width="1.1" height="26.0" fill="#ef5350"/><rect x="1461.16" y="450.4" width="5.6" height="2.7" fill="#ef5350"/>
<rect x="1472.17" y="430.5" width="1.1" height="32.5" fill="#26a69a"/><rect x="1469.92" y="440.4" width="5.6" height="15.0" fill="#26a69a"/>
<rect x="1480.94" y="395.4" width="1.1" height="51.1" fill="#26a69a"/><rect x="1478.69" y="411.0" width="5.6" height="34.4" fill="#26a69a"/>
<rect x="1489.71" y="352.8" width="1.1" height="60.0" fill="#26a69a"/><rect x="1487.46" y="355.1" width="5.6" height="56.7" fill="#26a69a"/>
<rect x="1498.48" y="343.1" width="1.1" height="56.6" fill="#ef5350"/><rect x="1496.23" y="359.5" width="5.6" height="24.3" fill="#ef5350"/>
<rect x="1507.25" y="359.2" width="1.1" height="38.2" fill="#ef5350"/><rect x="1505.00" y="383.5" width="5.6" height="3.0" fill="#ef5350"/>
<rect x="1516.01" y="356.2" width="1.1" height="48.4" fill="#ef5350"/><rect x="1513.76" y="388.0" width="5.6" height="7.1" fill="#ef5350"/>
<rect x="1524.78" y="389.2" width="1.1" height="30.0" fill="#ef5350"/><rect x="1522.53" y="401.2" width="5.6" height="3.7" fill="#ef5350"/>
<rect x="1533.55" y="372.6" width="1.1" height="37.9" fill="#ef5350"/><rect x="1531.30" y="382.3" width="5.6" height="16.2" fill="#ef5350"/>
<rect x="1542.32" y="377.2" width="1.1" height="63.9" fill="#ef5350"/><rect x="1540.07" y="394.3" width="5.6" height="31.9" fill="#ef5350"/>
<rect x="1551.09" y="418.5" width="1.1" height="53.2" fill="#ef5350"/><rect x="1548.84" y="423.5" width="5.6" height="21.4" fill="#ef5350"/>
<path d="M62.7,902.3 C65.4,902.0 73.3,901.0 78.8,900.5 C84.4,899.9 90.4,899.8 96.2,898.9 C102.1,898.1 107.9,896.5 113.8,895.4 C119.6,894.3 125.5,893.3 131.3,892.3 C137.2,891.4 140.1,890.8 148.8,889.7 C157.6,888.6 173.7,886.7 183.9,885.7 C194.1,884.7 201.3,884.3 210.1,883.5 C218.8,882.8 229.1,881.7 236.4,881.1 C243.7,880.5 247.9,880.2 253.8,879.8 C259.6,879.5 265.5,879.4 271.3,879.2 C277.2,879.1 283.0,879.1 288.8,878.8 C294.7,878.4 300.9,877.8 306.4,877.2 C311.9,876.6 317.4,876.0 322.0,875.2 C326.5,874.4 330.6,873.1 333.8,872.3 C337.0,871.5 337.2,871.5 341.4,870.4 C345.6,869.3 353.1,867.2 358.9,865.8 C364.8,864.4 370.6,863.1 376.5,861.9 C382.3,860.8 388.0,859.7 393.8,859.0 C399.7,858.3 405.5,858.0 411.4,857.5 C417.2,856.9 423.1,856.4 428.9,855.8 C434.8,855.1 440.5,854.2 446.5,853.5 C452.4,852.7 458.6,852.0 464.6,851.2 C470.6,850.3 476.6,849.2 482.5,848.5 C488.4,847.9 494.2,847.7 500.0,847.3 C505.8,846.9 511.7,846.6 517.5,846.4 C523.4,846.2 530.6,846.2 534.9,846.1 C539.3,845.9 540.8,845.6 543.7,845.5 C546.6,845.4 549.5,845.4 552.5,845.5 C555.4,845.6 558.3,845.9 561.2,846.1 C564.2,846.3 567.1,846.5 570.0,846.7 C572.9,846.9 575.6,847.2 578.8,847.3 C581.9,847.4 585.2,847.5 588.8,847.5 C592.3,847.5 597.3,847.4 600.0,847.3 C602.7,847.3 601.2,847.3 604.9,847.2 C608.6,847.1 617.9,846.8 622.3,846.6 C626.7,846.4 626.7,846.5 631.1,846.2 C635.5,845.8 642.8,844.8 648.6,844.3 C654.5,843.8 660.3,843.5 666.2,843.1 C672.0,842.6 677.8,842.2 683.7,841.5 C689.5,840.9 696.8,839.9 701.2,839.2 C705.6,838.6 707.1,838.2 710.0,837.5 C712.9,836.9 714.4,836.6 718.8,835.4 C723.1,834.1 730.4,831.5 736.2,830.0 C741.9,828.5 747.7,827.3 753.5,826.2 C759.4,825.0 766.8,824.1 771.2,823.1 C775.6,822.1 775.6,821.7 780.0,820.0 C784.4,818.3 791.7,815.0 797.5,812.9 C803.4,810.8 809.1,809.0 814.9,807.4 C820.8,805.7 826.8,804.4 832.6,803.1 C838.5,801.7 845.6,800.4 850.0,799.2 C854.4,798.1 855.6,797.3 858.9,796.2 C862.3,795.0 866.7,793.3 870.0,792.3 C873.3,791.3 874.5,791.2 878.5,790.0 C882.4,788.8 889.7,786.5 893.7,785.4 C897.7,784.2 899.5,783.9 902.5,783.1 C905.4,782.3 908.3,781.4 911.2,780.5 C914.2,779.6 917.1,778.8 920.0,777.7 C922.9,776.6 925.7,775.1 928.6,773.8 C931.5,772.6 934.5,771.3 937.4,770.0 C940.3,768.7 943.2,767.4 946.2,766.2 C949.1,764.9 952.3,763.6 954.9,762.6 C957.5,761.6 958.7,761.3 961.8,760.1 C965.0,758.9 970.9,756.6 973.9,755.4 C976.9,754.2 977.2,753.7 980.0,752.8 C982.8,751.8 986.4,751.1 990.8,749.7 C995.1,748.3 1001.0,745.7 1006.2,744.3 C1011.3,742.9 1016.4,742.3 1021.5,741.2 C1026.7,740.2 1031.8,739.0 1036.9,738.2 C1042.1,737.3 1047.2,736.9 1052.3,736.2 C1057.4,735.4 1062.6,734.6 1067.7,733.8 C1072.8,733.1 1078.7,732.3 1083.1,731.5 C1087.4,730.8 1091.0,730.2 1093.8,729.5 C1096.7,728.9 1097.9,728.4 1100.0,727.7 C1102.1,727.0 1103.9,726.1 1106.2,725.4 C1108.4,724.7 1111.2,724.0 1113.5,723.4 C1115.9,722.8 1117.5,722.3 1120.4,721.6 C1123.3,721.0 1126.6,720.0 1130.9,719.5 C1135.3,718.9 1141.8,718.7 1146.6,718.3 C1151.5,717.9 1156.8,717.4 1160.0,717.2 C1163.2,717.1 1163.4,717.6 1166.0,717.4 C1168.6,717.2 1172.5,716.4 1175.4,716.2 C1178.3,715.9 1181.0,715.9 1183.5,715.7 C1186.1,715.4 1187.8,715.1 1190.8,714.6 C1193.7,714.2 1198.5,713.5 1201.1,713.1 C1203.6,712.6 1203.0,712.6 1206.2,712.0 C1209.3,711.4 1216.3,709.9 1220.0,709.2 C1223.7,708.5 1225.2,708.6 1228.2,707.7 C1231.2,706.8 1235.3,704.9 1238.0,703.8 C1240.7,702.8 1242.1,702.8 1244.6,701.2 C1247.2,699.7 1250.5,696.9 1253.4,694.6 C1256.3,692.4 1259.3,690.4 1262.2,687.7 C1265.1,685.0 1267.9,681.4 1270.8,678.5 C1273.7,675.5 1276.6,672.7 1279.5,670.0 C1282.5,667.3 1285.1,664.8 1288.3,662.3 C1291.5,659.8 1295.6,656.8 1298.5,655.0 C1301.5,653.2 1303.1,652.6 1305.8,651.5 C1308.6,650.5 1310.7,650.0 1315.0,648.6 C1319.3,647.2 1325.9,644.9 1331.4,643.1 C1336.9,641.2 1342.8,639.4 1347.8,637.5 C1352.9,635.7 1358.4,633.3 1361.5,632.0 C1364.7,630.7 1364.1,630.8 1366.9,629.5 C1369.7,628.2 1374.2,626.2 1378.5,624.2 C1382.7,622.3 1388.2,619.8 1392.3,618.0 C1396.4,616.2 1399.2,614.9 1403.1,613.4 C1406.9,611.9 1410.8,610.4 1415.4,608.9 C1420.0,607.4 1425.6,605.8 1430.8,604.3 C1435.9,602.8 1442.2,601.3 1446.2,600.0 C1450.2,598.7 1452.0,597.8 1454.8,596.8 C1457.6,595.7 1459.9,594.8 1462.9,593.6 C1465.8,592.5 1469.6,590.9 1472.3,589.8 C1475.1,588.6 1476.6,588.2 1479.3,586.7 C1482.1,585.3 1485.4,582.9 1488.7,581.2 C1492.0,579.4 1496.1,577.5 1499.2,576.0 C1502.3,574.5 1504.5,573.6 1507.2,572.3 C1510.0,571.0 1512.8,569.6 1515.7,568.2 C1518.6,566.9 1521.9,565.4 1524.6,564.3 C1527.3,563.2 1529.2,562.4 1532.1,561.4 C1534.9,560.3 1538.8,559.0 1541.8,558.1 C1544.9,557.2 1548.8,556.2 1550.2,555.8" fill="none" stroke="#7e57c2" stroke-width="1.3" stroke-linejoin="round" stroke-linecap="round"/>
<path d="M62.7,874.2 C65.4,873.8 73.3,872.8 78.8,872.3 C84.4,871.8 91.9,871.7 96.2,871.2 C100.6,870.7 102.1,870.0 105.0,869.2 C107.9,868.5 110.8,867.5 113.8,866.6 C116.7,865.8 119.6,864.9 122.5,864.2 C125.5,863.4 126.9,862.9 131.3,862.0 C135.7,861.1 143.0,859.6 148.8,858.9 C154.7,858.3 160.5,858.5 166.4,858.0 C172.2,857.5 178.1,856.6 183.9,856.2 C189.7,855.7 195.5,855.6 201.3,855.4 C207.1,855.1 213.0,854.9 218.8,854.6 C224.7,854.3 230.6,853.9 236.4,853.7 C242.2,853.4 247.9,853.0 253.8,853.1 C259.6,853.2 265.5,853.9 271.3,854.3 C277.2,854.7 284.5,855.4 288.8,855.5 C293.2,855.7 294.7,855.3 297.6,855.1 C300.5,854.8 302.3,854.5 306.4,854.0 C310.4,853.5 317.4,853.1 322.0,851.9 C326.5,850.7 330.6,848.2 333.8,846.7 C337.0,845.1 338.7,844.1 341.4,842.7 C344.1,841.3 347.2,839.9 350.2,838.4 C353.1,836.8 356.0,834.8 358.9,833.5 C361.8,832.1 364.6,831.1 367.5,830.1 C370.5,829.1 373.5,828.1 376.5,827.3 C379.4,826.5 382.2,826.0 385.1,825.5 C388.0,824.9 390.9,824.6 393.8,824.2 C396.8,823.9 399.7,823.6 402.6,823.5 C405.5,823.4 408.5,823.6 411.4,823.6 C414.3,823.7 417.2,823.8 420.2,823.8 C423.1,823.7 426.0,823.5 428.9,823.3 C431.8,823.1 434.8,822.7 437.7,822.4 C440.6,822.0 443.6,821.6 446.5,821.2 C449.4,820.7 452.1,820.3 455.1,819.9 C458.1,819.5 461.5,819.3 464.6,818.8 C467.7,818.4 470.6,817.5 473.5,817.0 C476.5,816.5 479.5,815.8 482.5,815.6 C485.4,815.4 488.3,815.8 491.2,815.9 C494.2,816.0 497.1,816.1 500.0,816.2 C502.9,816.4 505.8,816.5 508.8,816.8 C511.7,817.2 514.6,817.7 517.5,818.1 C520.5,818.4 523.4,818.7 526.3,819.0 C529.2,819.3 532.0,819.7 534.9,819.9 C537.8,820.2 540.8,820.1 543.7,820.4 C546.6,820.6 549.5,820.8 552.5,821.5 C555.4,822.1 558.3,823.3 561.2,824.2 C564.2,825.2 567.1,826.3 570.0,827.3 C572.9,828.3 575.6,829.6 578.8,830.4 C581.9,831.2 585.2,831.6 588.8,832.0 C592.3,832.3 597.3,832.2 600.0,832.4 C602.7,832.5 602.7,832.7 604.9,832.8 C607.2,832.9 610.6,832.9 613.5,832.9 C616.4,833.0 619.4,833.1 622.3,833.1 C625.2,833.1 628.2,833.0 631.1,832.8 C634.0,832.6 636.9,832.4 639.8,831.8 C642.8,831.3 645.7,830.3 648.6,829.7 C651.5,829.1 654.5,828.5 657.4,828.2 C660.3,827.8 663.2,827.9 666.2,827.7 C669.1,827.5 672.0,827.2 674.9,826.8 C677.8,826.4 680.8,825.7 683.7,825.2 C686.6,824.7 689.5,824.3 692.5,823.7 C695.4,823.1 698.3,822.4 701.2,821.5 C704.2,820.7 707.1,819.8 710.0,818.5 C712.9,817.1 715.8,815.3 718.8,813.5 C721.7,811.7 724.6,809.6 727.5,807.7 C730.4,805.8 733.3,803.8 736.2,802.3 C739.1,800.8 742.0,799.8 744.9,798.8 C747.8,797.7 750.6,796.8 753.5,796.0 C756.4,795.2 759.3,794.7 762.3,793.8 C765.3,793.0 768.4,792.2 771.4,790.8 C774.3,789.3 777.1,787.2 780.0,785.0 C782.9,782.8 785.8,780.1 788.7,777.8 C791.6,775.6 794.5,773.0 797.5,771.2 C800.4,769.4 803.3,768.6 806.2,767.2 C809.1,765.7 812.0,763.9 814.9,762.7 C817.8,761.4 820.8,760.6 823.8,759.6 C826.7,758.6 829.6,757.7 832.5,756.8 C835.5,756.0 838.4,755.4 841.3,754.7 C844.2,753.9 847.1,753.5 850.0,752.3 C852.9,751.1 855.7,748.9 858.8,747.3 C862.0,745.7 865.8,743.7 868.7,742.5 C871.6,741.2 873.4,740.7 876.2,739.7 C878.9,738.6 882.0,737.2 884.9,736.2 C887.8,735.1 890.8,734.4 893.7,733.4 C896.6,732.4 899.5,731.6 902.5,730.3 C905.4,729.0 908.3,727.0 911.2,725.4 C914.2,723.7 917.4,722.4 920.0,720.5 C922.6,718.6 924.1,716.5 927.0,714.0 C929.9,711.6 934.2,708.1 937.4,705.8 C940.6,703.5 943.2,701.9 946.2,700.2 C949.1,698.5 952.0,697.4 954.9,695.7 C957.8,694.1 960.8,691.9 963.7,690.1 C966.6,688.4 969.6,686.6 972.5,685.3 C975.3,684.0 977.7,683.4 980.6,682.3 C983.5,681.3 987.0,680.0 990.0,678.8 C993.0,677.7 995.7,676.3 998.6,675.3 C1001.5,674.3 1004.5,673.3 1007.4,672.7 C1010.3,672.1 1013.0,671.8 1016.2,671.6 C1019.3,671.4 1023.1,671.6 1026.2,671.5 C1029.3,671.3 1031.9,670.7 1034.8,670.7 C1037.7,670.7 1040.6,671.3 1043.5,671.5 C1046.5,671.6 1049.4,671.6 1052.3,671.6 C1055.2,671.6 1058.2,671.5 1061.1,671.5 C1064.0,671.5 1066.8,671.6 1069.7,671.6 C1072.6,671.6 1075.5,671.5 1078.5,671.5 C1081.4,671.4 1084.0,671.9 1087.2,671.5 C1090.5,671.1 1095.1,670.0 1098.0,669.0 C1100.9,668.0 1102.2,666.5 1104.8,665.5 C1107.4,664.5 1110.6,663.8 1113.5,663.0 C1116.5,662.3 1119.4,661.5 1122.3,661.0 C1125.2,660.6 1128.2,660.3 1131.1,660.4 C1134.0,660.5 1136.9,661.0 1139.8,661.6 C1142.7,662.2 1145.6,663.2 1148.5,663.9 C1151.4,664.5 1154.3,665.1 1157.2,665.5 C1160.1,665.9 1163.1,666.2 1166.0,666.5 C1168.9,666.8 1172.1,667.3 1174.8,667.5 C1177.4,667.7 1178.8,667.6 1181.8,667.7 C1184.7,667.7 1189.1,667.8 1192.3,667.7 C1195.5,667.6 1198.2,667.4 1201.1,667.1 C1204.0,666.8 1206.8,666.5 1209.7,665.8 C1212.6,665.2 1215.5,663.8 1218.5,663.1 C1221.4,662.4 1224.3,662.6 1227.2,661.5 C1230.2,660.5 1233.1,659.2 1236.0,656.9 C1238.9,654.6 1241.7,651.8 1244.6,647.7 C1247.5,643.6 1250.5,637.1 1253.4,632.3 C1256.3,627.6 1259.3,624.6 1262.2,619.2 C1265.0,613.8 1267.3,606.0 1270.4,600.0 C1273.5,594.0 1277.8,588.2 1280.8,583.3 C1283.8,578.5 1285.5,575.1 1288.5,570.8 C1291.4,566.4 1295.7,560.2 1298.6,557.3 C1301.6,554.4 1303.3,554.4 1306.1,553.5 C1308.8,552.7 1312.1,552.6 1315.0,552.0 C1317.9,551.4 1320.6,550.7 1323.4,550.0 C1326.1,549.3 1328.5,548.4 1331.5,547.5 C1334.4,546.7 1338.2,545.7 1340.9,544.9 C1343.7,544.2 1345.1,544.0 1347.9,543.1 C1350.7,542.2 1354.6,540.8 1357.7,539.5 C1360.8,538.1 1363.4,536.7 1366.7,534.8 C1370.0,533.0 1374.7,530.3 1377.6,528.5 C1380.6,526.7 1382.0,525.3 1384.6,523.8 C1387.3,522.4 1390.5,521.1 1393.5,519.8 C1396.4,518.6 1399.4,517.1 1402.3,516.2 C1405.2,515.2 1408.1,514.9 1411.0,514.2 C1413.9,513.6 1416.8,512.8 1419.8,512.3 C1422.7,511.8 1425.6,511.5 1428.5,511.1 C1431.4,510.6 1434.3,510.1 1437.2,509.7 C1440.1,509.3 1443.1,509.2 1446.0,508.5 C1448.9,507.8 1451.8,506.6 1454.8,505.5 C1457.7,504.5 1460.6,503.6 1463.5,502.4 C1466.5,501.2 1469.5,499.8 1472.3,498.3 C1475.1,496.9 1477.6,495.8 1480.5,493.7 C1483.4,491.6 1486.7,488.1 1489.7,485.8 C1492.7,483.6 1495.5,481.9 1498.5,480.0 C1501.4,478.1 1504.3,476.3 1507.2,474.6 C1510.2,472.9 1513.1,471.4 1516.0,470.0 C1518.9,468.6 1521.7,467.4 1524.6,466.2 C1527.5,464.9 1530.5,463.3 1533.4,462.3 C1536.3,461.3 1539.2,460.5 1542.2,460.0 C1545.1,459.5 1549.5,459.2 1550.9,459.1" fill="none" stroke="#ffa21a" stroke-width="1.25" stroke-linejoin="round" stroke-linecap="round"/>
<line x1="1481.1" y1="333.8" x2="1568" y2="401.1" stroke="#2962ff" stroke-width="2.2" stroke-linecap="round"/>
<line x1="1481.1" y1="395.4" x2="1568" y2="418.5" stroke="#2962ff" stroke-width="2.2" stroke-linecap="round"/>
</g>
<text transform="translate(70.95,165.80) scale(0.8205,1)" font-size="14.3" font-weight="normal" fill="#33363f" stroke="#33363f" stroke-width="0.2" stroke-linejoin="round">COFFEE C® FUTURES (DEC 2021), 1D, ICEUS</text>
<text transform="translate(334.19,165.80) scale(0.7629,1)" font-size="14.3" font-weight="normal" fill="#33363f" stroke="#33363f" stroke-width="0.2" stroke-linejoin="round">O</text>
<text transform="translate(343.91,165.80) scale(0.8850,1)" font-size="14.3" font-weight="normal" fill="#ef5350" stroke="#ef5350" stroke-width="0.2" stroke-linejoin="round">190.40</text>
<text transform="translate(390.13,165.80) scale(0.8702,1)" font-size="14.3" font-weight="normal" fill="#33363f" stroke="#33363f" stroke-width="0.2" stroke-linejoin="round">H</text>
<text transform="translate(399.09,165.80) scale(0.9038,1)" font-size="14.3" font-weight="normal" fill="#ef5350" stroke="#ef5350" stroke-width="0.2" stroke-linejoin="round">191.10</text>
<text transform="translate(446.05,165.80) scale(0.8488,1)" font-size="14.3" font-weight="normal" fill="#33363f" stroke="#33363f" stroke-width="0.2" stroke-linejoin="round">L</text>
<text transform="translate(453.92,165.80) scale(0.8707,1)" font-size="14.3" font-weight="normal" fill="#ef5350" stroke="#ef5350" stroke-width="0.2" stroke-linejoin="round">183.75</text>
<text transform="translate(499.79,165.80) scale(0.7641,1)" font-size="14.3" font-weight="normal" fill="#33363f" stroke="#33363f" stroke-width="0.2" stroke-linejoin="round">C</text>
<text transform="translate(508.30,165.80) scale(0.8896,1)" font-size="14.3" font-weight="normal" fill="#ef5350" stroke="#ef5350" stroke-width="0.2" stroke-linejoin="round">187.45</text>
<text transform="translate(555.32,165.80) scale(0.8707,1)" font-size="14.3" font-weight="normal" fill="#ef5350" stroke="#ef5350" stroke-width="0.2" stroke-linejoin="round">−2.75 (−1.45%)</text>
<text transform="translate(70.51,184.10) scale(0.8882,1)" font-size="14.3" font-weight="normal" fill="#33363f" stroke="#33363f" stroke-width="0.2" stroke-linejoin="round">EMA (34, close)</text>
<text transform="translate(168.90,184.10) scale(0.8967,1)" font-size="14.3" font-weight="normal" fill="#ff9800" stroke="#ff9800" stroke-width="0.2" stroke-linejoin="round">185.43</text>
<text transform="translate(70.49,202.70) scale(0.9010,1)" font-size="14.3" font-weight="normal" fill="#33363f" stroke="#33363f" stroke-width="0.2" stroke-linejoin="round">EMA (89, close, 0)</text>
<text transform="translate(185.02,202.70) scale(0.8778,1)" font-size="14.3" font-weight="normal" fill="#7e57c2" stroke="#7e57c2" stroke-width="0.2" stroke-linejoin="round">172.12</text>
<text transform="translate(1728.58,974.80) scale(0.9197,1)" font-size="14.3" font-weight="normal" fill="#23262f" stroke="#23262f" stroke-width="0.2" stroke-linejoin="round">115.00</text>
<text transform="translate(1728.60,938.60) scale(0.8967,1)" font-size="14.3" font-weight="normal" fill="#23262f" stroke="#23262f" stroke-width="0.2" stroke-linejoin="round">120.00</text>
<text transform="translate(1728.60,902.30) scale(0.8967,1)" font-size="14.3" font-weight="normal" fill="#23262f" stroke="#23262f" stroke-width="0.2" stroke-linejoin="round">125.00</text>
<text transform="translate(1728.60,866.20) scale(0.8967,1)" font-size="14.3" font-weight="normal" fill="#23262f" stroke="#23262f" stroke-width="0.2" stroke-linejoin="round">130.00</text>
<text transform="translate(1728.60,830.10) scale(0.8967,1)" font-size="14.3" font-weight="normal" fill="#23262f" stroke="#23262f" stroke-width="0.2" stroke-linejoin="round">135.00</text>
<text transform="translate(1728.60,794.10) scale(0.8967,1)" font-size="14.3" font-weight="normal" fill="#23262f" stroke="#23262f" stroke-width="0.2" stroke-linejoin="round">140.00</text>
<text transform="translate(1728.60,758.00) scale(0.8967,1)" font-size="14.3" font-weight="normal" fill="#23262f" stroke="#23262f" stroke-width="0.2" stroke-linejoin="round">145.00</text>
<text transform="translate(1728.60,721.20) scale(0.8967,1)" font-size="14.3" font-weight="normal" fill="#23262f" stroke="#23262f" stroke-width="0.2" stroke-linejoin="round">150.00</text>
<text transform="translate(1728.60,685.10) scale(0.8967,1)" font-size="14.3" font-weight="normal" fill="#23262f" stroke="#23262f" stroke-width="0.2" stroke-linejoin="round">155.00</text>
<text transform="translate(1728.60,649.00) scale(0.8967,1)" font-size="14.3" font-weight="normal" fill="#23262f" stroke="#23262f" stroke-width="0.2" stroke-linejoin="round">160.00</text>
<text transform="translate(1728.60,612.80) scale(0.8967,1)" font-size="14.3" font-weight="normal" fill="#23262f" stroke="#23262f" stroke-width="0.2" stroke-linejoin="round">165.00</text>
<text transform="translate(1728.60,576.50) scale(0.8967,1)" font-size="14.3" font-weight="normal" fill="#23262f" stroke="#23262f" stroke-width="0.2" stroke-linejoin="round">170.00</text>
<text transform="translate(1728.60,540.20) scale(0.8967,1)" font-size="14.3" font-weight="normal" fill="#23262f" stroke="#23262f" stroke-width="0.2" stroke-linejoin="round">175.00</text>
<text transform="translate(1728.60,503.90) scale(0.8967,1)" font-size="14.3" font-weight="normal" fill="#23262f" stroke="#23262f" stroke-width="0.2" stroke-linejoin="round">180.00</text>
<text transform="translate(1728.60,467.40) scale(0.8967,1)" font-size="14.3" font-weight="normal" fill="#23262f" stroke="#23262f" stroke-width="0.2" stroke-linejoin="round">185.00</text>
<text transform="translate(1728.60,431.20) scale(0.8967,1)" font-size="14.3" font-weight="normal" fill="#23262f" stroke="#23262f" stroke-width="0.2" stroke-linejoin="round">190.00</text>
<text transform="translate(1728.60,395.10) scale(0.8967,1)" font-size="14.3" font-weight="normal" fill="#23262f" stroke="#23262f" stroke-width="0.2" stroke-linejoin="round">195.00</text>
<text transform="translate(1728.80,359.10) scale(0.8920,1)" font-size="14.3" font-weight="normal" fill="#23262f" stroke="#23262f" stroke-width="0.2" stroke-linejoin="round">200.00</text>
<text transform="translate(1728.80,323.00) scale(0.8920,1)" font-size="14.3" font-weight="normal" fill="#23262f" stroke="#23262f" stroke-width="0.2" stroke-linejoin="round">205.00</text>
<text transform="translate(1728.80,286.60) scale(0.8920,1)" font-size="14.3" font-weight="normal" fill="#23262f" stroke="#23262f" stroke-width="0.2" stroke-linejoin="round">210.00</text>
<text transform="translate(1728.80,249.80) scale(0.8920,1)" font-size="14.3" font-weight="normal" fill="#23262f" stroke="#23262f" stroke-width="0.2" stroke-linejoin="round">215.00</text>
<text transform="translate(1728.80,213.70) scale(0.8920,1)" font-size="14.3" font-weight="normal" fill="#23262f" stroke="#23262f" stroke-width="0.2" stroke-linejoin="round">220.00</text>
<text transform="translate(1728.80,177.50) scale(0.8920,1)" font-size="14.3" font-weight="normal" fill="#23262f" stroke="#23262f" stroke-width="0.2" stroke-linejoin="round">225.00</text>
<rect x="1733.3" y="152.2" width="30.4" height="19.0" rx="3.6" fill="#fff" stroke="#e6e8f0" stroke-width="1.2"/>
<text transform="translate(1737.33,166.80) scale(0.7547,1)" font-size="14.3" font-weight="normal" fill="#3d404a" stroke="#3d404a" stroke-width="0.2" stroke-linejoin="round">USX</text>
<path d="M1718,417.1 H1772.9 a2,2 0 0 1 2,2 V433.5 a2,2 0 0 1 -2,2 H1718 Z" fill="#4caf50"/>
<text transform="translate(1728.78,431.00) scale(0.9825,1)" font-size="13.0" font-weight="normal" fill="#fff" stroke="#fff" stroke-width="0.55" stroke-linejoin="round">190.05</text>
<path d="M1718,454.8 H1772.9 a2,2 0 0 1 2,2 V470.9 a2,2 0 0 1 -2,2 H1718 Z" fill="#4caf50"/>
<text transform="translate(1728.78,468.55) scale(0.9825,1)" font-size="13.0" font-weight="normal" fill="#fff" stroke="#fff" stroke-width="0.55" stroke-linejoin="round">185.55</text>
<path d="M1718,489.4 H1772.9 a2,2 0 0 1 2,2 V505.9 a2,2 0 0 1 -2,2 H1718 Z" fill="#4caf50"/>
<text transform="translate(1728.78,503.35) scale(0.9773,1)" font-size="13.0" font-weight="normal" fill="#fff" stroke="#fff" stroke-width="0.55" stroke-linejoin="round">180.10</text>
<rect x="1654.3" y="436" width="62.6" height="18.3" rx="2" fill="#ef5350"/>
<path d="M1718,436.0 H1772.9 a2,2 0 0 1 2,2 V452.3 a2,2 0 0 1 -2,2 H1718 Z" fill="#ef5350"/>
<text transform="translate(1728.78,449.85) scale(0.9825,1)" font-size="13.0" font-weight="normal" fill="#fff" stroke="#fff" stroke-width="0.55" stroke-linejoin="round">187.45</text>
<text transform="translate(1659.65,449.90) scale(0.9114,1)" font-size="13.0" font-weight="normal" fill="#fff" stroke="#fff" stroke-width="0.55" stroke-linejoin="round">KCZ2021</text>
<clipPath id="tc"><rect x="62" y="996.3" width="1656.0" height="30"/></clipPath><g clip-path="url(#tc)">
<text transform="translate(179.67,1015.12) scale(0.9417,1)" font-size="14.0" font-weight="normal" fill="#23262f" stroke="#23262f" stroke-width="0.55" stroke-linejoin="round">Tháng Hai</text>
<text transform="translate(352.27,1015.12) scale(0.9400,1)" font-size="14.0" font-weight="normal" fill="#23262f" stroke="#23262f" stroke-width="0.55" stroke-linejoin="round">Tháng 3</text>
<text transform="translate(457.33,1015.20) scale(0.8661,1)" font-size="14.3" font-weight="normal" fill="#23262f" stroke="#23262f" stroke-width="0.2" stroke-linejoin="round">15</text>
<text transform="translate(554.07,1015.12) scale(0.9359,1)" font-size="14.0" font-weight="normal" fill="#23262f" stroke="#23262f" stroke-width="0.55" stroke-linejoin="round">Tháng 4</text>
<text transform="translate(667.71,1015.20) scale(0.8799,1)" font-size="14.3" font-weight="normal" fill="#23262f" stroke="#23262f" stroke-width="0.2" stroke-linejoin="round">19</text>
<text transform="translate(728.57,1015.12) scale(0.9273,1)" font-size="14.0" font-weight="normal" fill="#23262f" stroke="#23262f" stroke-width="0.55" stroke-linejoin="round">Tháng Năm</text>
<text transform="translate(843.14,1015.20) scale(0.8522,1)" font-size="14.3" font-weight="normal" fill="#23262f" stroke="#23262f" stroke-width="0.2" stroke-linejoin="round">17</text>
<text transform="translate(913.17,1015.12) scale(0.9479,1)" font-size="14.0" font-weight="normal" fill="#23262f" stroke="#23262f" stroke-width="0.55" stroke-linejoin="round">Tháng 6</text>
<text transform="translate(1018.21,1015.20) scale(0.8869,1)" font-size="14.3" font-weight="normal" fill="#23262f" stroke="#23262f" stroke-width="0.2" stroke-linejoin="round">15</text>
<text transform="translate(1106.27,1015.12) scale(0.9479,1)" font-size="14.0" font-weight="normal" fill="#23262f" stroke="#23262f" stroke-width="0.55" stroke-linejoin="round">Tháng 7</text>
<text transform="translate(1219.70,1015.20) scale(0.8938,1)" font-size="14.3" font-weight="normal" fill="#23262f" stroke="#23262f" stroke-width="0.2" stroke-linejoin="round">19</text>
<text transform="translate(1281.27,1015.12) scale(0.9293,1)" font-size="14.0" font-weight="normal" fill="#23262f" stroke="#23262f" stroke-width="0.55" stroke-linejoin="round">Tháng Tám</text>
<text transform="translate(1395.31,1015.20) scale(0.8869,1)" font-size="14.3" font-weight="normal" fill="#23262f" stroke="#23262f" stroke-width="0.2" stroke-linejoin="round">16</text>
<text transform="translate(1483.37,1015.12) scale(0.9360,1)" font-size="14.0" font-weight="normal" fill="#23262f" stroke="#23262f" stroke-width="0.55" stroke-linejoin="round">Tháng 9</text>
<text transform="translate(1587.80,1015.20) scale(0.8938,1)" font-size="14.3" font-weight="normal" fill="#23262f" stroke="#23262f" stroke-width="0.2" stroke-linejoin="round">16</text>
<text transform="translate(1663.77,1015.12) scale(0.9583,1)" font-size="14.0" font-weight="normal" fill="#23262f" stroke="#23262f" stroke-width="0.55" stroke-linejoin="round">Tháng 10</text>
</g>
</svg>
</body></html>
